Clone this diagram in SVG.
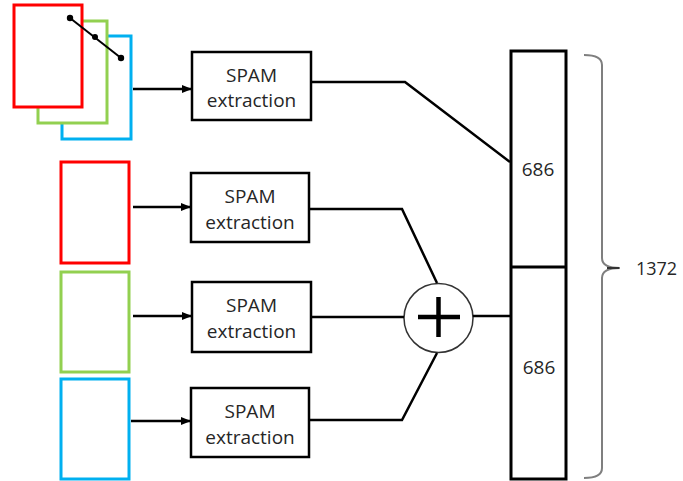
<svg xmlns="http://www.w3.org/2000/svg" width="683" height="481" viewBox="0 0 683 481">
<style>
.t{font-family:"Open Sans","Liberation Sans",sans-serif;font-size:19px;fill:#262626;text-anchor:middle}
.box{fill:#fff;stroke:#000;stroke-width:2.5}
.con{fill:none;stroke:#000;stroke-width:2.5}
.red{fill:#fff;stroke:#ff0000;stroke-width:3}
.grn{fill:#fff;stroke:#92d050;stroke-width:3}
.blu{fill:#fff;stroke:#00b0f0;stroke-width:3}
</style>
<defs>
<marker id="ah" markerWidth="10" markerHeight="8" refX="9" refY="4" orient="auto" markerUnits="userSpaceOnUse">
<path d="M0,0 L10,4 L0,8 Z" fill="#000"/>
</marker>
</defs>
<rect width="683" height="481" fill="#fff"/>

<g id="stack">
<rect class="blu" x="62" y="36" width="69" height="103"/>
<rect class="grn" x="38" y="21" width="69" height="102"/>
<rect class="red" x="14" y="5" width="68" height="102"/>
<line x1="70" y1="18" x2="121" y2="58" stroke="#000" stroke-width="2"/>
<circle cx="70" cy="18" r="3.2" fill="#000"/>
<circle cx="95" cy="37" r="3" fill="#000"/>
<circle cx="121" cy="58" r="3.2" fill="#000"/>
</g>
<g id="frame-red"><rect class="red" x="61" y="162" width="68" height="101"/></g>
<g id="frame-green"><rect class="grn" x="61" y="272" width="68" height="100"/></g>
<g id="frame-blue"><rect class="blu" x="61" y="379" width="68" height="100"/></g>

<g id="spam1"><rect class="box" x="192" y="52" width="119" height="68"/><text class="t" x="251.5" y="82">SPAM</text><text class="t" x="251.5" y="107">extraction</text></g>
<g id="spam2"><rect class="box" x="191" y="173" width="118" height="69"/><text class="t" x="250" y="203">SPAM</text><text class="t" x="250" y="229">extraction</text></g>
<g id="spam3"><rect class="box" x="192" y="282" width="119" height="70"/><text class="t" x="251.5" y="312">SPAM</text><text class="t" x="251.5" y="338">extraction</text></g>
<g id="spam4"><rect class="box" x="191" y="388" width="118" height="69"/><text class="t" x="250" y="418">SPAM</text><text class="t" x="250" y="444">extraction</text></g>

<g id="sum">
<circle cx="438.5" cy="318" r="34.5" fill="#fff" stroke="#333" stroke-width="1.5"/>
<line x1="418" y1="317" x2="460" y2="317" stroke="#000" stroke-width="4.5"/>
<line x1="438.5" y1="297" x2="438.5" y2="337" stroke="#000" stroke-width="4.5"/>
</g>

<g id="vector">
<rect x="511" y="51" width="55" height="428" fill="#fff" stroke="#000" stroke-width="3"/>
<line x1="511" y1="267" x2="566" y2="267" stroke="#000" stroke-width="3"/>
<text class="t" x="538" y="176">686</text>
<text class="t" x="539" y="374">686</text>
</g>

<g id="brace">
<path d="M584,55 Q602,55 602,65 L602,258 Q602,268 620,268 Q602,268 602,278 L602,468 Q602,478 584,478" fill="none" stroke="#7f7f7f" stroke-width="2"/>
<line x1="607" y1="268" x2="619" y2="268" stroke="#333" stroke-width="2"/>
<text class="t" x="656.5" y="275" style="font-size:18px">1372</text>
</g>

<g id="connectors">
<line class="con" x1="133" y1="89" x2="191" y2="89" marker-end="url(#ah)"/>
<line class="con" x1="133" y1="207" x2="190" y2="207" marker-end="url(#ah)"/>
<line class="con" x1="133" y1="316" x2="191" y2="316" marker-end="url(#ah)"/>
<line class="con" x1="131" y1="421" x2="190" y2="421" marker-end="url(#ah)"/>
<polyline class="con" points="311,82 405,82 510,162"/>
<polyline class="con" points="309,209 402,209 437,283"/>
<line class="con" x1="311" y1="317" x2="404" y2="317"/>
<polyline class="con" points="309,420 402,420 437,353"/>
<line class="con" x1="473" y1="316" x2="510" y2="316"/>
</g>
</svg>
